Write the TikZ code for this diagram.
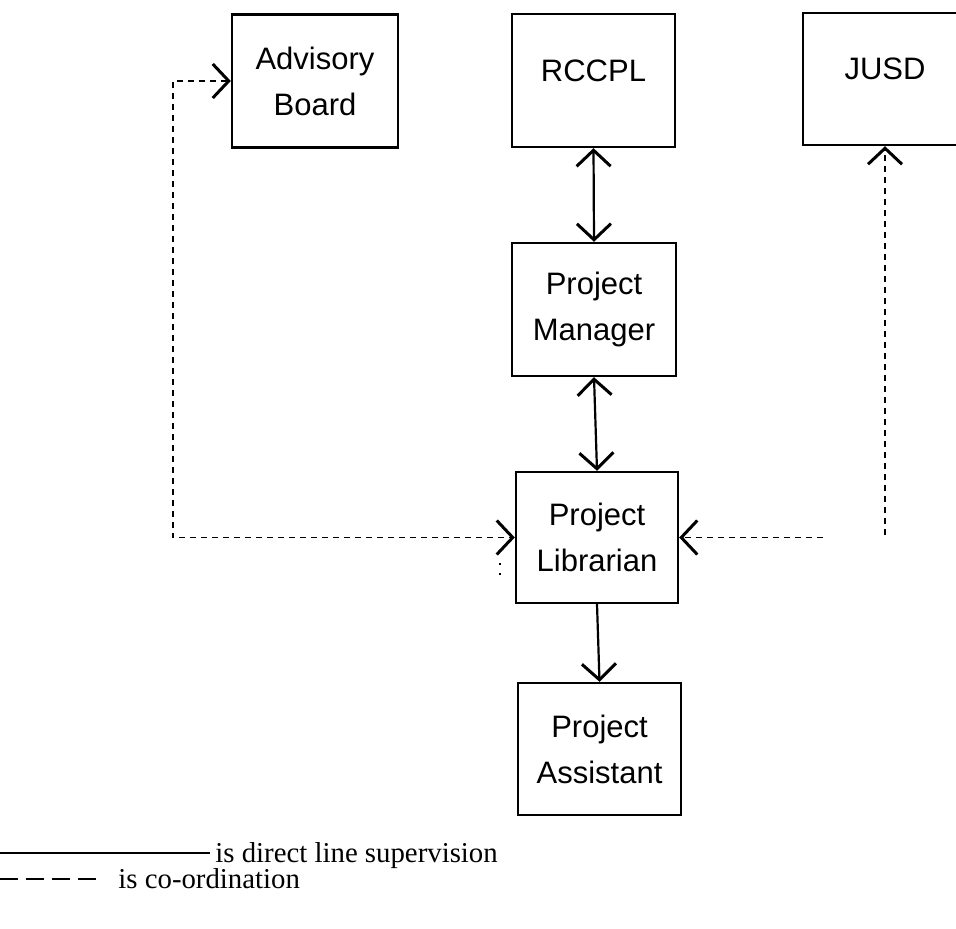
\documentclass[tikz,border=0pt]{standalone}
\usepackage{fontspec}
\setmainfont{Liberation Serif}
\newfontfamily\boxfont{Liberation Sans}
\usetikzlibrary{arrows.meta}
\begin{document}
\begin{tikzpicture}[x=0.5pt,y=-0.5pt,
  >={Straight Barb[length=8pt,width=17pt,line width=1.5pt]},
  orgbox/.style={draw,line width=1.2pt,align=center,inner sep=0pt,
    font=\boxfont\fontsize{15.5}{23}\selectfont},
  raised/.style={text height=11pt,text depth=10pt},
  supline/.style={line width=1.1pt},
  coordline/.style={line width=0.6pt,dash pattern=on 3pt off 2.5pt},
  legendline/.style={line width=0.9pt},
  legendtext/.style={anchor=base west,inner sep=0pt,font=\fontsize{14.4}{17}\selectfont}]
\useasboundingbox (0,0) rectangle (956,929);

% organisation boxes
\node[orgbox,minimum width=83pt,minimum height=66.5pt] (ab) at (315,81) {Advisory\\Board};
\node[orgbox,raised,minimum width=81.5pt,minimum height=66.5pt] (rccpl) at (593.5,80.5) {RCCPL};
\node[orgbox,raised,minimum width=82pt,minimum height=66pt] (jusd) at (885,79) {JUSD};
\node[orgbox,minimum width=82pt,minimum height=66.5pt] (pm) at (594,309.5) {Project\\Manager};
\node[orgbox,minimum width=81pt,minimum height=65.5pt] (pl) at (597,537.5) {Project\\Librarian};
\node[orgbox,minimum width=81.5pt,minimum height=66pt] (pa) at (599.5,749) {Project\\Assistant};

% direct line supervision
\draw[supline,<->] (rccpl.south) -- (pm.north);
\draw[supline,<->] (pm.south) -- (pl.north);
\draw[supline,->] (pl.south) -- (pa.north);

% co-ordination with the advisory board
\coordinate (lx) at (173,0);
\draw[coordline,<->] (ab.west) -- (ab.west -| lx) -- (pl.west -| lx) -- (pl.west);

% co-ordination with JUSD
\coordinate (jend) at (885,535);
\coordinate (hx) at (823,0);
\draw[coordline,->] (jend) -- (jusd.south);
\draw[coordline,->] (pl.east -| hx) -- (pl.east);

% short dotted mark left of the librarian box
\coordinate (s1) at (500,563);
\coordinate (s2) at (500,581);
\draw[line width=0.6pt,dash pattern=on 1pt off 4pt] (s1) -- (s2);

% legend
\coordinate (la1) at (0,853);
\coordinate (la2) at (210,853);
\coordinate (lb1) at (0,879);
\coordinate (lb2) at (97,879);
\draw[legendline] (la1) -- (la2);
\draw[legendline,dash pattern=on 9pt off 4pt] (lb1) -- (lb2);
\node[legendtext] (t1) at (215,862) {is direct line supervision};
\node[legendtext] (t2) at (118,888) {is co-ordination};
\end{tikzpicture}
\end{document}
